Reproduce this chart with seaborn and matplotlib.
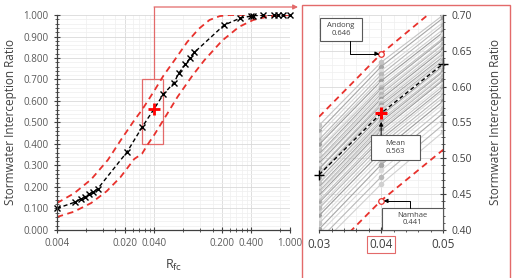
import numpy as np
import pandas as pd
import matplotlib
matplotlib.use('Agg')
import matplotlib.pyplot as plt
import seaborn as sns
from matplotlib.ticker import FixedLocator, MultipleLocator, FormatStrFormatter
from matplotlib.patches import Rectangle
from matplotlib.lines import Line2D

# mean curve (left panel)
mean_R = [0.004, 0.0062, 0.0070, 0.0078, 0.0086, 0.0095, 0.0105, 0.0211, 0.03, 0.04,
          0.05, 0.064, 0.072, 0.084, 0.094, 0.104, 0.21, 0.31, 0.40, 0.42, 0.53,
          0.68, 0.76, 0.86, 1.0]
mean_ratio = [0.100, 0.130, 0.144, 0.153, 0.167, 0.177, 0.191, 0.363, 0.477, 0.563,
              0.632, 0.684, 0.730, 0.770, 0.800, 0.826, 0.953, 0.986, 0.995, 0.997,
              0.999, 1.0, 1.0, 1.0, 1.0]

# upper / lower envelopes (left panel)
upper_R = [0.004, 0.006, 0.009, 0.0134, 0.0183, 0.025, 0.03, 0.04, 0.05, 0.065,
           0.0876, 0.115, 0.149, 0.19, 0.24, 0.4, 1.0]
upper_ratio = [0.125, 0.17, 0.235, 0.326, 0.42, 0.51, 0.558, 0.646, 0.718, 0.79,
               0.874, 0.935, 0.977, 0.995, 1.0, 1.0, 1.0]
lower_R = [0.004, 0.006, 0.009, 0.013, 0.018, 0.025, 0.03, 0.0347, 0.04, 0.05, 0.07,
           0.1, 0.132, 0.2, 0.3, 0.42, 0.6, 1.0]
lower_ratio = [0.06, 0.085, 0.125, 0.18, 0.245, 0.33, 0.354, 0.40, 0.441, 0.512, 0.62,
               0.72, 0.79, 0.88, 0.945, 0.977, 0.993, 1.0]

# zoomed panel
zoom_R = [0.03, 0.04, 0.05]
andong = [0.558, 0.646, 0.718]
namhae = [0.354, 0.441, 0.512]
mean_zoom = [0.477, 0.563, 0.632]

reg_030 = [0.546, 0.538, 0.533, 0.526, 0.522, 0.519, 0.513, 0.511, 0.506, 0.504,
           0.499, 0.497, 0.493, 0.491, 0.486, 0.485, 0.480, 0.478, 0.476, 0.471,
           0.467, 0.465, 0.460, 0.458, 0.454, 0.452, 0.448, 0.446, 0.441, 0.438,
           0.433, 0.430, 0.424, 0.420, 0.414, 0.409, 0.401, 0.395, 0.386, 0.377]
reg_040 = [0.634, 0.628, 0.622, 0.617, 0.612, 0.608, 0.604, 0.600, 0.597, 0.593,
           0.590, 0.586, 0.583, 0.580, 0.577, 0.574, 0.571, 0.568, 0.566, 0.560,
           0.557, 0.554, 0.551, 0.548, 0.545, 0.542, 0.539, 0.535, 0.531, 0.527,
           0.523, 0.519, 0.514, 0.509, 0.504, 0.498, 0.491, 0.483, 0.474, 0.464]
reg_050 = [0.700, 0.696, 0.690, 0.686, 0.680, 0.676, 0.673, 0.668, 0.666, 0.661,
           0.659, 0.655, 0.652, 0.648, 0.646, 0.642, 0.640, 0.637, 0.634, 0.629,
           0.627, 0.623, 0.621, 0.617, 0.615, 0.611, 0.609, 0.604, 0.601, 0.597,
           0.594, 0.589, 0.585, 0.580, 0.576, 0.570, 0.563, 0.555, 0.547, 0.537]

left_xticks = [0.004, 0.02, 0.04, 0.2, 0.4, 1.0]
left_xlabels = ['0.004', '0.020', '0.040', '0.200', '0.400', '1.000']

rows = []
for i in range(len(reg_040)):
    for r, v in zip(zoom_R, [reg_030[i], reg_040[i], reg_050[i]]):
        rows.append({'region': 'r%02d' % i, 'R': r, 'ratio': v})
df_reg = pd.DataFrame(rows)

sns.set_theme(style='white')
plt.rcParams['font.family'] = ['Open Sans', 'DejaVu Sans']

red = '#e8312c'
boxred = '#e36a6a'
txt = '#404040'

fig = plt.figure(figsize=(5.13, 2.78), dpi=100)
ax1 = fig.add_axes([0.111, 0.173, 0.454, 0.773])
ax2 = fig.add_axes([0.622, 0.173, 0.242, 0.773])

# ---- left panel
ax1.set_xscale('log')
ax1.set_xlim(0.004, 1.0)
ax1.set_ylim(0, 1.0)
minor_pos = [0.004 * k for k in range(2, 10)] + [0.04 * k for k in range(2, 10)] + [0.8]
ax1.xaxis.set_major_locator(FixedLocator(left_xticks))
ax1.xaxis.set_minor_locator(FixedLocator(minor_pos))
ax1.set_xticks(left_xticks)
ax1.set_xticklabels(left_xlabels)
ax1.xaxis.set_minor_formatter(plt.NullFormatter())
ax1.yaxis.set_major_locator(MultipleLocator(0.1))
ax1.yaxis.set_minor_locator(MultipleLocator(0.02))
ax1.yaxis.set_major_formatter(FormatStrFormatter('%.3f'))
ax1.grid(True, which='major', color='#d9d9d9', lw=0.6)
ax1.grid(True, which='minor', color='#efefef', lw=0.5)
ax1.set_axisbelow(True)

sns.lineplot(x=upper_R, y=upper_ratio, ax=ax1, color=red, lw=1.3, linestyle=(0, (3.5, 2.5)),
             estimator=None, sort=False)
sns.lineplot(x=lower_R, y=lower_ratio, ax=ax1, color=red, lw=1.3, linestyle=(0, (3.5, 2.5)),
             estimator=None, sort=False)
sns.lineplot(x=mean_R, y=mean_ratio, ax=ax1, color='black', lw=1.0, linestyle=(0, (3, 2)),
             estimator=None, sort=False)
mk_R = [r for r in mean_R if r != 0.04]
mk_v = [v for r, v in zip(mean_R, mean_ratio) if r != 0.04]
ax1.plot(mk_R, mk_v, 'x', color='black', ms=4, mew=1.0, clip_on=False)
ax1.plot(0.04, mean_ratio[mean_R.index(0.04)], '+', color='red', ms=9, mew=2.0)
ax1.add_patch(Rectangle((0.03, 0.40), 0.02, 0.30, fill=False, ec=boxred, lw=0.9))

for s in ['top', 'right']:
    ax1.spines[s].set_visible(False)
for s in ['left', 'bottom']:
    ax1.spines[s].set_color('#404040')
    ax1.spines[s].set_linewidth(0.9)
ax1.tick_params(which='major', direction='inout', length=5, width=0.8, colors='#404040',
                labelsize=7, labelcolor='#595959', left=True, bottom=True)
ax1.tick_params(which='minor', direction='inout', length=3, width=0.6, colors='#404040',
                left=True, bottom=True)
ax1.set_ylabel('Stormwater Interception Ratio', fontsize=8.5, color=txt, labelpad=5)
ax1.set_xlabel(r'R$_{\mathrm{fc}}$', fontsize=9, color=txt, labelpad=6)

# ---- right panel
ax2.set_xlim(0.03, 0.05)
ax2.set_ylim(0.40, 0.70)
ax2.xaxis.set_major_locator(FixedLocator(zoom_R))
ax2.xaxis.set_minor_locator(MultipleLocator(0.002))
ax2.xaxis.set_major_formatter(FormatStrFormatter('%.2f'))
ax2.yaxis.set_major_locator(MultipleLocator(0.05))
ax2.yaxis.set_minor_locator(MultipleLocator(0.01))
ax2.yaxis.set_major_formatter(FormatStrFormatter('%.2f'))
ax2.yaxis.tick_right()
ax2.yaxis.set_label_position('right')
ax2.grid(True, which='major', color='#d9d9d9', lw=0.6)
ax2.grid(True, which='minor', color='#efefef', lw=0.5)
ax2.set_axisbelow(True)

shades = ['#c4c4c4', '#a6a6a6', '#dadada', '#b8b8b8', '#d0d0d0', '#9c9c9c', '#e2e2e2']
palette = [shades[i % len(shades)] for i in range(len(reg_040))]
sns.lineplot(data=df_reg, x='R', y='ratio', units='region', estimator=None, hue='region',
             palette=palette, legend=False, lw=0.8, marker='o', markersize=4,
             markeredgewidth=0, ax=ax2)

ax2.plot(zoom_R, andong, color=red, lw=1.3, linestyle=(0, (3.5, 2.5)))
ax2.plot(zoom_R, namhae, color=red, lw=1.3, linestyle=(0, (3.5, 2.5)))
ax2.plot(0.04, andong[1], 'o', mfc='white', mec=red, ms=4, mew=0.9)
ax2.plot(0.04, namhae[1], 'o', mfc='white', mec=red, ms=4, mew=0.9)
ax2.plot(zoom_R, mean_zoom, color='black', lw=1.0, linestyle=(0, (3, 2)))
ax2.plot([zoom_R[0], zoom_R[2]], [mean_zoom[0], mean_zoom[2]], '+', color='black', ms=7,
         mew=1.0, clip_on=False)
ax2.plot(0.04, mean_zoom[1], '+', color='red', ms=9, mew=2.2)

# labelled boxes
boxes = [('Andong\n%.3f' % andong[1], 0.03016, 0.6637, 0.00678, 0.0321),
         ('Mean\n%.3f' % mean_zoom[1], 0.03839, 0.4977, 0.0079, 0.0349),
         ('Namhae\n%.3f' % namhae[1], 0.04016, 0.40, 0.00984, 0.0307)]
for label, x0, y0, w, h in boxes:
    ax2.add_patch(Rectangle((x0, y0), w, h, fc='white', ec='#595959', lw=0.8,
                            clip_on=False, zorder=5))
    ax2.text(x0 + w / 2, y0 + h / 2, label, ha='center', va='center', fontsize=5.5,
             color=txt, linespacing=1.1, zorder=6)

arr = dict(arrowstyle='-|>', color='black', lw=0.7, shrinkA=0, shrinkB=0,
           mutation_scale=6)
ax2.annotate('', xy=(0.0397, andong[1]), xytext=(0.035, 0.6637),
             arrowprops=dict(arr, connectionstyle='angle,angleA=90,angleB=0,rad=0'), zorder=6)
ax2.annotate('', xy=(0.04, 0.551), xytext=(0.04, 0.4977 + 0.0349),
             arrowprops=dict(arr), zorder=6)
ax2.annotate('', xy=(0.0404, 0.4405), xytext=(0.0447, 0.4307),
             arrowprops=dict(arr, connectionstyle='angle,angleA=90,angleB=0,rad=0'), zorder=6)

for s in ['top', 'left']:
    ax2.spines[s].set_visible(False)
for s in ['right', 'bottom']:
    ax2.spines[s].set_color('#404040')
    ax2.spines[s].set_linewidth(0.9)
ax2.tick_params(which='major', direction='inout', length=5, width=0.8, colors='#404040',
                labelcolor=txt, right=True, bottom=True, left=False)
ax2.tick_params(axis='x', labelsize=8.5)
ax2.tick_params(axis='y', labelsize=7.5)
ax2.tick_params(which='minor', direction='inout', length=3, width=0.6, colors='#404040',
                right=True, bottom=True, left=False)
ax2.set_ylabel('Stormwater Interception Ratio', fontsize=8.5, color=txt, labelpad=12)
ax2.set_xlabel('')

fig.canvas.draw()
ax2.get_xticklabels()[1].set_bbox(dict(facecolor='none', edgecolor=boxred, lw=0.8, pad=1.5))

# connector from small box to zoom panel
inv = fig.transFigure.inverted()
px, py = inv.transform(ax1.transData.transform((0.04, 0.70)))
ty = 1 - 7 / 278.0
fig.add_artist(Line2D([px, px], [py, ty], color=boxred, lw=0.9, transform=fig.transFigure))
ax1.annotate('', xy=(298 / 513.0, ty), xycoords='figure fraction', xytext=(px, ty),
             textcoords='figure fraction', annotation_clip=False,
             arrowprops=dict(arrowstyle='-|>', color=boxred, lw=0.9, shrinkA=0, shrinkB=0,
                             mutation_scale=7))
fig.add_artist(Rectangle((302 / 513.0, -0.02), 208 / 513.0, 1 - 5 / 278.0 + 0.02, fill=False,
                         ec=boxred, lw=1.0, transform=fig.transFigure))

fig.savefig('out.png', dpi=100)
